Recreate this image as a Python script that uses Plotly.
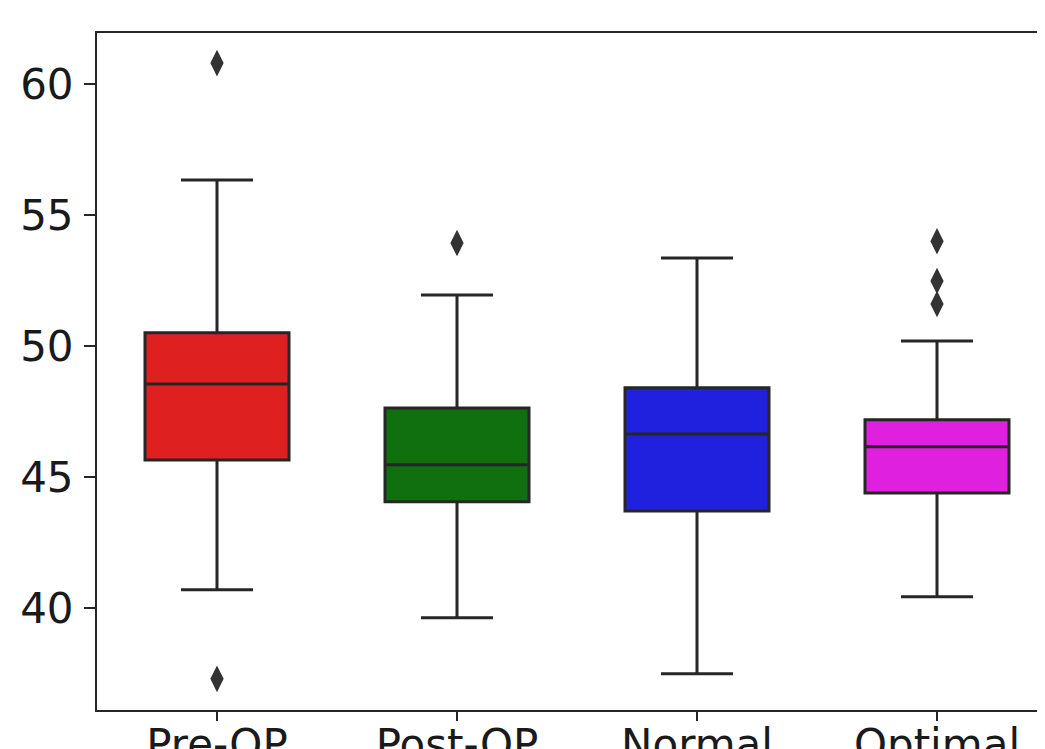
import plotly.graph_objects as go

categories = ["Pre-OP", "Post-OP", "Normal", "Optimal"]
q1 = [45.65, 44.05, 43.70, 44.39]
median = [48.55, 45.46, 46.64, 46.15]
q3 = [50.50, 47.63, 48.40, 47.18]
lowerfence = [40.69, 39.62, 37.48, 40.42]
upperfence = [56.34, 51.95, 53.36, 50.19]
outliers = [[60.8, 37.29], [53.93], [], [54.0, 52.48, 51.6]]
colors = ["#df2020", "#107010", "#2020df", "#df20df"]

line_color = "#262626"

fig = go.Figure()
for i, cat in enumerate(categories):
    fig.add_trace(go.Box(
        x=[cat], q1=[q1[i]], median=[median[i]], q3=[q3[i]],
        lowerfence=[lowerfence[i]], upperfence=[upperfence[i]],
        fillcolor=colors[i], line=dict(color=line_color, width=3),
        width=0.6, whiskerwidth=0.5, boxpoints=False, showlegend=False,
    ))
    if outliers[i]:
        fig.add_trace(go.Scatter(
            x=[cat] * len(outliers[i]), y=outliers[i], mode="markers",
            marker=dict(symbol="diamond-tall", size=19, color="#333333", line=dict(width=0)),
            showlegend=False,
        ))

axis_font = dict(family="DejaVu Sans", size=42, color="#1a1a1a")
fig.update_layout(
    width=1037, height=741,
    margin=dict(l=89, r=0, t=25, b=39),
    plot_bgcolor="white", paper_bgcolor="white",
    xaxis=dict(
        type="category", categoryorder="array", categoryarray=categories,
        range=[-0.5, 3.45], showgrid=False, zeroline=False, automargin=False,
        showline=True, linecolor=line_color, linewidth=2, mirror=True,
        ticks="outside", ticklen=9, tickwidth=2, tickcolor=line_color,
        tickfont=axis_font, ticklabelstandoff=-12,
    ),
    yaxis=dict(
        range=[36.1, 61.95], tickvals=[40, 45, 50, 55, 60],
        showgrid=False, zeroline=False, automargin=False,
        showline=True, linecolor=line_color, linewidth=2, mirror=False,
        ticks="outside", ticklen=11, tickwidth=2, tickcolor=line_color,
        tickfont=axis_font, ticklabelstandoff=2,
    ),
)
fig.write_html("out.html")
